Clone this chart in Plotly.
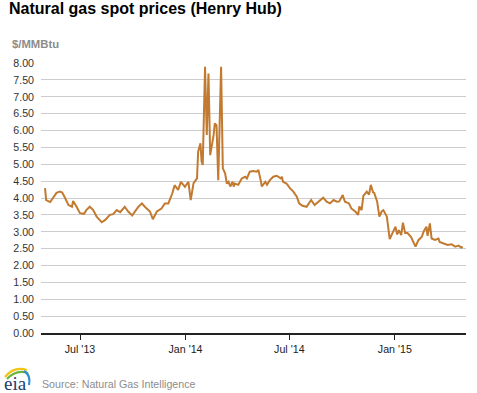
import plotly.graph_objects as go

# ---------------- data ----------------
dates = [
    "2013-05-01", "2013-05-03", "2013-05-10", "2013-05-15", "2013-05-21", "2013-05-27", "2013-05-31", "2013-06-05", "2013-06-11", "2013-06-17", "2013-06-19", "2013-06-25",
    "2013-07-01", "2013-07-08", "2013-07-12", "2013-07-18", "2013-07-24", "2013-07-30", "2013-08-08", "2013-08-14", "2013-08-22", "2013-08-28",
    "2013-09-03", "2013-09-09", "2013-09-17", "2013-09-23", "2013-09-30", "2013-10-04", "2013-10-11", "2013-10-17", "2013-10-22", "2013-10-31",
    "2013-11-05", "2013-11-12", "2013-11-20", "2013-11-26", "2013-12-02", "2013-12-09", "2013-12-13", "2013-12-19", "2013-12-24", "2013-12-31",
    "2014-01-06", "2014-01-10", "2014-01-15", "2014-01-21", "2014-01-23", "2014-01-27", "2014-01-29", "2014-01-31", "2014-02-04", "2014-02-07",
    "2014-02-10", "2014-02-13", "2014-02-17", "2014-02-19", "2014-02-21", "2014-02-24", "2014-02-27", "2014-03-04", "2014-03-07", "2014-03-11",
    "2014-03-14", "2014-03-17", "2014-03-20", "2014-03-24", "2014-03-26", "2014-03-28", "2014-04-03", "2014-04-09", "2014-04-15", "2014-04-18",
    "2014-04-23", "2014-04-29", "2014-05-05", "2014-05-08", "2014-05-12", "2014-05-14", "2014-05-20", "2014-05-23", "2014-05-28", "2014-06-03",
    "2014-06-09", "2014-06-16", "2014-06-18", "2014-06-20", "2014-06-26", "2014-07-02", "2014-07-08", "2014-07-14", "2014-07-18", "2014-07-24",
    "2014-07-31", "2014-08-08", "2014-08-14", "2014-08-21", "2014-08-29", "2014-09-04", "2014-09-10", "2014-09-16", "2014-09-22", "2014-09-26",
    "2014-10-02", "2014-10-06", "2014-10-13", "2014-10-17", "2014-10-24", "2014-10-29", "2014-10-31", "2014-11-04", "2014-11-07", "2014-11-13",
    "2014-11-17", "2014-11-20", "2014-11-24", "2014-11-26", "2014-12-01", "2014-12-05", "2014-12-09", "2014-12-12", "2014-12-18", "2014-12-23",
    "2014-12-29", "2015-01-02", "2015-01-05", "2015-01-08", "2015-01-12", "2015-01-15", "2015-01-19", "2015-01-23", "2015-01-29", "2015-02-02",
    "2015-02-06", "2015-02-11", "2015-02-17", "2015-02-20", "2015-02-25", "2015-02-27", "2015-03-03", "2015-03-06", "2015-03-12", "2015-03-18",
    "2015-03-20", "2015-03-26", "2015-04-03", "2015-04-10", "2015-04-16", "2015-04-22", "2015-04-27", "2015-04-29",
]

prices = [
    4.29, 3.94, 3.88, 4.00, 4.15, 4.19, 4.16, 4.00, 3.79, 3.74, 3.91, 3.74,
    3.55, 3.53, 3.64, 3.74, 3.64, 3.45, 3.28, 3.35, 3.50, 3.52,
    3.64, 3.58, 3.74, 3.60, 3.48, 3.58, 3.74, 3.84, 3.74, 3.60,
    3.37, 3.60, 3.69, 3.84, 3.84, 4.14, 4.38, 4.24, 4.48, 4.33,
    4.48, 3.94, 4.44, 4.58, 5.37, 5.62, 5.08, 4.98, 7.89, 5.87,
    7.69, 5.27, 5.67, 5.87, 6.21, 6.16, 4.53, 7.89, 4.88, 4.73,
    4.43, 4.48, 4.34, 4.48, 4.34, 4.43, 4.39, 4.58, 4.63, 4.58,
    4.78, 4.80, 4.78, 4.83, 4.53, 4.34, 4.48, 4.39, 4.53, 4.63,
    4.66, 4.58, 4.63, 4.48, 4.43, 4.29, 4.19, 4.04, 3.84, 3.77,
    3.74, 3.94, 3.79, 3.89, 4.01, 3.89, 3.84, 3.94, 3.89, 3.90,
    4.09, 3.89, 3.84, 3.69, 3.60, 3.50, 3.75, 3.64, 4.06, 4.19,
    4.10, 4.39, 4.17, 4.15, 3.90, 3.45, 3.60, 3.64, 3.45, 2.78,
    3.00, 3.15, 2.92, 3.05, 2.90, 3.27, 2.96, 2.96, 2.85, 2.68,
    2.56, 2.75, 2.85, 3.00, 3.15, 2.88, 3.25, 2.80, 2.76, 2.80,
    2.70, 2.66, 2.61, 2.63, 2.56, 2.59, 2.53, 2.56,
]

x_tick_dates = ["2013-07-01", "2014-01-01", "2014-07-01", "2015-01-01"]
x_tick_labels = ["Jul '13", "Jan '14", "Jul '14", "Jan '15"]
y_tick_values = [i * 0.5 for i in range(17)]
x_range = ["2013-04-24", "2015-05-05"]

title_text = "Natural gas spot prices (Henry Hub)"
unit_text = "$/MMBtu"
source_text = "Source: Natural Gas Intelligence"

# ---------------- layout helpers ----------------
W, H = 477, 393
ML, MR, MT, MB = 41, 11, 63, 60
PW, PH = W - ML - MR, H - MT - MB


def px(x, y):
    """pixel position -> paper coordinates (for decorations only)"""
    return (x - ML) / PW, 1 - (y - MT) / PH


FONT = "Liberation Sans, Arial, sans-serif"

fig = go.Figure()
fig.add_trace(go.Scatter(
    x=dates, y=prices, mode="lines",
    line=dict(color="#c27a30", width=2),
    hoverinfo="x+y",
))

annotations = []
tx, ty = px(7, 8.5)
annotations.append(dict(text="<b>%s</b>" % title_text, x=tx, y=ty, xref="paper", yref="paper",
                        xanchor="left", yanchor="middle", showarrow=False,
                        font=dict(family=FONT, size=16, color="#000000")))
ux, uy = px(10, 44)
annotations.append(dict(text="<b>%s</b>" % unit_text, x=ux, y=uy, xref="paper", yref="paper",
                        xanchor="left", yanchor="middle", showarrow=False,
                        font=dict(family=FONT, size=11.3, color="#8c8c8c")))
sx, sy = px(40, 384)
annotations.append(dict(text=source_text, x=sx, y=sy, xref="paper", yref="paper",
                        xanchor="left", yanchor="middle", showarrow=False,
                        font=dict(family=FONT, size=10.67, color="#8c8c8c")))
ex, ey = px(2, 383)
annotations.append(dict(text="eia", x=ex, y=ey, xref="paper", yref="paper",
                        xanchor="left", yanchor="middle", showarrow=False,
                        font=dict(family="Liberation Serif, DejaVu Serif, serif", size=19, color="#1d3c6e")))


def arc(p0, c, p1, color, width):
    a = px(*p0)
    b = px(*c)
    d = px(*p1)
    return dict(type="path", xref="paper", yref="paper",
                path="M %f,%f Q %f,%f %f,%f" % (a[0], a[1], b[0], b[1], d[0], d[1]),
                line=dict(color=color, width=width))


shapes = [
    arc((5, 377), (14, 366), (27, 370), "#f2c318", 2.2),
    arc((7, 379), (16, 369), (28, 373), "#6cb33f", 2.2),
    arc((24, 371), (31, 375), (29, 385), "#2f8fce", 2.2),
]

fig.update_layout(
    width=W, height=H,
    margin=dict(l=ML, r=MR, t=MT, b=MB, pad=0),
    plot_bgcolor="white", paper_bgcolor="white",
    showlegend=False,
    font=dict(family=FONT, size=10.67, color="#333333"),
    annotations=annotations,
    shapes=shapes,
    xaxis=dict(
        type="date", range=x_range,
        tickvals=x_tick_dates, ticktext=x_tick_labels,
        showgrid=False, zeroline=False,
        showline=True, linecolor="#222222", linewidth=2,
        ticks="outside", ticklen=5, tickcolor="#222222", tickwidth=1,
        tickfont=dict(family=FONT, size=10.67, color="#222222"),
        fixedrange=True,
    ),
    yaxis=dict(
        range=[0, 8], tickvals=y_tick_values, tickformat=".2f",
        showgrid=True, gridcolor="#cccccc", gridwidth=1,
        zeroline=False, showline=False, ticks="",
        ticklabelstandoff=6,
        tickfont=dict(family=FONT, size=10.67, color="#333333"),
        fixedrange=True,
    ),
)

fig.write_html("out.html", config={"displayModeBar": False},
               post_script="document.body.style.margin='0px';")
